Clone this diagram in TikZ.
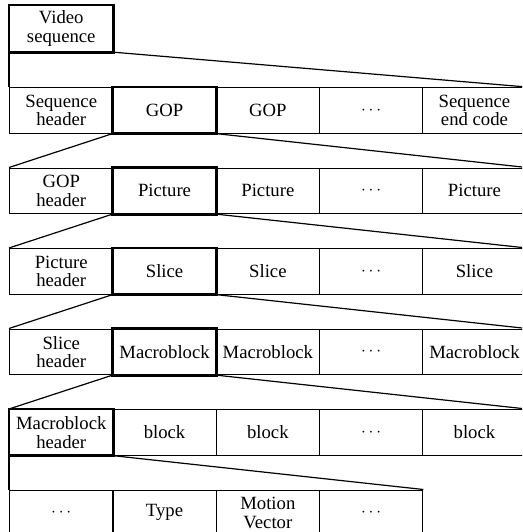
\documentclass[tikz,border=0pt]{standalone}
\usepackage{fontspec}
\setmainfont{Liberation Serif}
\begin{document}
\begin{tikzpicture}[x=1pt,y=-1pt,
  cell/.style={draw, line width=1.2pt, rectangle, minimum width=103.3pt,
    minimum height=45.5pt, inner sep=0pt, anchor=north west, align=center,
    font=\fontsize{18.7}{18.5}\selectfont},
  sel/.style={line width=2.8pt},
  link/.style={line width=1.2pt}]
\useasboundingbox (0,0) rectangle (522,532);
\fill[white] (0,0) rectangle (522,532);
\clip (0,0) rectangle (522,532);

% top level
\node[cell, minimum height=46pt] (vs) at (9,5) {Video\\sequence};

% sequence layer
\node[cell] (sh) at (9,87)     {Sequence\\header};
\node[cell] (g1) at (112.3,87) {GOP};
\node[cell] (g2) at (215.6,87) {GOP};
\node[cell] (d1) at (318.9,87) {$\cdots$};
\node[cell] (se) at (422.2,87) {Sequence\\end code};

% GOP layer
\node[cell] (gh) at (9,167.5)     {GOP\\header};
\node[cell] (p1) at (112.3,167.5) {Picture};
\node[cell] (p2) at (215.6,167.5) {Picture};
\node[cell] (d2) at (318.9,167.5) {$\cdots$};
\node[cell] (p3) at (422.2,167.5) {Picture};

% picture layer
\node[cell] (ph) at (9,248)     {Picture\\header};
\node[cell] (s1) at (112.3,248) {Slice};
\node[cell] (s2) at (215.6,248) {Slice};
\node[cell] (d3) at (318.9,248) {$\cdots$};
\node[cell] (s3) at (422.2,248) {Slice};

% slice layer
\node[cell] (slh) at (9,328.5)     {Slice\\header};
\node[cell] (m1)  at (112.3,328.5) {Macroblock};
\node[cell] (m2)  at (215.6,328.5) {Macroblock};
\node[cell] (d4)  at (318.9,328.5) {$\cdots$};
\node[cell] (m3)  at (422.2,328.5) {Macroblock};

% macroblock layer
\node[cell] (mh) at (9,409)     {Macroblock\\header};
\node[cell] (b1) at (112.3,409) {block};
\node[cell] (b2) at (215.6,409) {block};
\node[cell] (d5) at (318.9,409) {$\cdots$};
\node[cell] (b3) at (422.2,409) {block};

% macroblock header fields
\node[cell] (e1) at (9,489.5)     {$\cdots$};
\node[cell] (ty) at (112.3,489.5) {Type};
\node[cell] (mv) at (215.6,489.5) {Motion\\Vector};
\node[cell] (e2) at (318.9,489.5) {$\cdots$};

% expanded elements
\foreach \n in {vs,g1,p1,s1,m1,mh}
  \draw[sel] (\n.north west) rectangle (\n.south east);

% expansion lines
\draw[link] (vs.south west) -- (sh.north west);
\draw[link] (vs.south east) -- (se.north east);
\draw[link] (g1.south west) -- (gh.north west);
\draw[link] (g1.south east) -- (p3.north east);
\draw[link] (p1.south west) -- (ph.north west);
\draw[link] (p1.south east) -- (s3.north east);
\draw[link] (s1.south west) -- (slh.north west);
\draw[link] (s1.south east) -- (m3.north east);
\draw[link] (m1.south west) -- (mh.north west);
\draw[link] (m1.south east) -- (b3.north east);
\draw[link] (mh.south west) -- (e1.north west);
\draw[link] (mh.south east) -- (e2.north east);
\end{tikzpicture}
\end{document}
